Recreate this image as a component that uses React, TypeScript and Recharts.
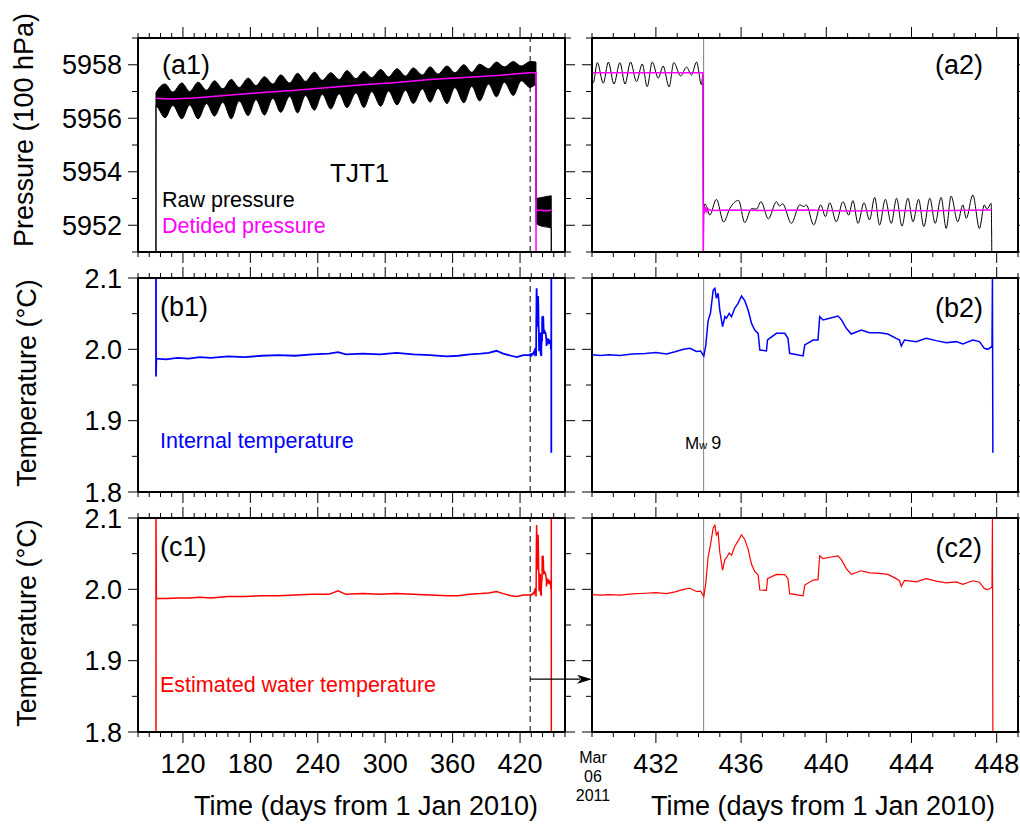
import React from "react";
import { ComposedChart, Line, Area, XAxis, YAxis, ReferenceLine } from "recharts";

const FONT = "'Liberation Sans', Arial, Helvetica, sans-serif";
const BLUE = "#0000ff";
const RED = "#ff0000";
const MAGENTA = "#ff00ff";
const GREY = "#808080";

// ---- pressure, 100 hPa ----
// envelope of the raw record on the long time axis (spring / neap tides alternate)
const bandDays = [95.98, 96, 104, 111, 119, 126, 133.5, 141, 148, 155.5, 163, 170, 178, 185, 192.5, 200, 207, 215, 222, 229, 237, 244, 251.5, 259, 266, 274, 281, 288, 296, 303, 310.5, 318, 325, 333, 340, 347, 355, 362, 370, 377, 384, 392, 399, 406, 414, 421, 429, 434.15, 434.3, 435, 441, 447.75, 447.8];
const bandLow = [5951, 5956.45, 5956.02, 5956.48, 5955.98, 5956.5, 5955.98, 5956.55, 5956.08, 5956.6, 5955.98, 5956.65, 5956.1, 5956.7, 5956.12, 5956.75, 5956.22, 5956.82, 5956.2, 5956.85, 5956.3, 5956.9, 5956.35, 5956.92, 5956.4, 5956.95, 5956.4, 5957.0, 5956.45, 5957.02, 5956.5, 5957.05, 5956.55, 5957.1, 5956.6, 5957.12, 5956.55, 5957.15, 5956.58, 5957.2, 5956.65, 5957.28, 5956.8, 5957.35, 5956.85, 5957.4, 5957.15, 5957.25, 5952.1, 5952.05, 5951.95, 5951.9, 5951];
const bandHigh = [5951, 5956.95, 5957.28, 5956.98, 5957.32, 5957.0, 5957.35, 5957.05, 5957.4, 5957.1, 5957.45, 5957.15, 5957.5, 5957.22, 5957.55, 5957.28, 5957.62, 5957.32, 5957.68, 5957.38, 5957.72, 5957.42, 5957.7, 5957.45, 5957.78, 5957.48, 5957.75, 5957.52, 5957.82, 5957.55, 5957.85, 5957.58, 5957.88, 5957.62, 5957.92, 5957.65, 5957.95, 5957.7, 5958.0, 5957.72, 5958.02, 5957.85, 5958.1, 5957.92, 5958.12, 5957.95, 5958.12, 5958.1, 5952.95, 5953.0, 5953.05, 5953.1, 5951];

// raw record around the mainshock: tidal highs and lows
const rawDays = [429.0, 429.06, 429.25, 429.53, 429.77, 430.03, 430.31, 430.55, 430.81, 431.09, 431.36, 431.59, 431.83, 432.11, 432.34, 432.62, 432.84, 433.16, 433.44, 433.67, 433.91, 434.14, 434.2, 434.24, 434.3, 434.38, 434.53, 434.84, 435.18, 435.47, 435.88, 436.17, 436.49, 436.72, 436.93, 437.28, 437.66, 437.8, 437.95, 438.36, 438.75, 438.95, 439.06, 439.41, 439.74, 439.96, 440.16, 440.47, 440.78, 441.05, 441.25, 441.49, 441.77, 442.03, 442.27, 442.5, 442.77, 443.05, 443.3, 443.55, 443.83, 444.07, 444.33, 444.58, 444.86, 445.11, 445.39, 445.63, 445.86, 446.17, 446.41, 446.57, 446.88, 447.19, 447.42, 447.55, 447.74, 447.77];
const rawValues = [5957.4, 5957.33, 5958.08, 5957.31, 5958.1, 5957.28, 5958.08, 5957.28, 5958.1, 5957.37, 5958.03, 5957.18, 5958.1, 5957.5, 5957.95, 5957.17, 5958.08, 5957.58, 5957.91, 5957.62, 5958.1, 5957.25, 5957.6, 5952.55, 5952.8, 5952.7, 5952.38, 5952.97, 5952.12, 5952.63, 5952.93, 5952.1, 5952.62, 5952.6, 5952.88, 5952.24, 5952.88, 5952.72, 5952.8, 5952.07, 5952.76, 5952.7, 5952.76, 5952.01, 5952.76, 5952.32, 5952.84, 5952.13, 5952.88, 5952.38, 5952.92, 5952.07, 5952.84, 5952.2, 5953.04, 5952.01, 5952.97, 5952.07, 5953.01, 5951.97, 5953.01, 5952.13, 5952.97, 5951.95, 5953.01, 5952.07, 5953.04, 5951.88, 5953.09, 5952.13, 5952.76, 5952.26, 5953.13, 5951.88, 5952.76, 5952.6, 5952.82, 5951.0];

const detidedDaysLong = [96, 110, 130, 160, 190, 220, 250, 280, 310, 340, 370, 400, 420];
const detidedLong = [5956.75, 5956.72, 5956.76, 5956.86, 5956.96, 5957.05, 5957.15, 5957.25, 5957.34, 5957.45, 5957.52, 5957.6, 5957.67];
const detidedDaysShort = [429.0, 434.2, 434.22, 434.25, 434.29, 434.33, 434.4, 434.48, 434.6, 435.5, 437.0, 439.0, 441.0, 443.0, 445.0, 447.76];
const detidedShort = [5957.7, 5957.7, 5951.0, 5952.75, 5952.45, 5952.68, 5952.5, 5952.6, 5952.55, 5952.57, 5952.55, 5952.57, 5952.53, 5952.55, 5952.54, 5952.57];

// ---- temperature, deg C ----
const tempDaysLong = [96.0, 96.02, 96.3, 105, 115, 125, 135, 145, 160, 175, 190, 205, 220, 235, 250, 258, 265, 280, 295, 310, 325, 340, 355, 365, 375, 385, 392, 399, 405, 412, 417, 423, 428.9];
const internalLong = [2.1, 1.962, 1.987, 1.986, 1.988, 1.987, 1.989, 1.988, 1.99, 1.989, 1.991, 1.992, 1.991, 1.993, 1.994, 1.996, 1.993, 1.994, 1.993, 1.995, 1.993, 1.992, 1.99, 1.991, 1.993, 1.994, 1.995, 1.998, 1.994, 1.991, 1.989, 1.992, 1.992];
const waterLong = [1.8, 2.1, 1.987, 1.987, 1.988, 1.988, 1.989, 1.988, 1.99, 1.99, 1.991, 1.991, 1.992, 1.993, 1.993, 1.998, 1.993, 1.994, 1.993, 1.994, 1.993, 1.992, 1.991, 1.991, 1.993, 1.994, 1.995, 1.997, 1.994, 1.991, 1.99, 1.992, 1.992];

const tempDaysShort = [429.0, 429.4, 429.8, 430.3, 430.9, 431.5, 432.0, 432.5, 432.9, 433.3, 433.6, 433.9, 434.1, 434.25, 434.34, 434.45, 434.56, 434.69, 434.77, 434.84, 434.92, 435.0, 435.13, 435.24, 435.31, 435.44, 435.55, 435.7, 435.86, 436.02, 436.17, 436.33, 436.49, 436.64, 436.8, 436.88, 437.19, 437.24, 437.66, 438.05, 438.2, 438.28, 438.91, 438.99, 439.38, 439.61, 439.69, 439.85, 440.16, 440.55, 440.7, 440.94, 441.17, 441.64, 442.03, 442.5, 442.89, 443.28, 443.44, 443.52, 443.67, 444.22, 444.69, 445.16, 445.63, 446.1, 446.41, 446.88, 447.19, 447.42, 447.58, 447.78, 447.8, 447.82];
const internalShort = [1.9925, 1.9915, 1.9925, 1.9915, 1.9935, 1.994, 1.9955, 1.9935, 1.9965, 2.0, 2.0015, 1.997, 1.9975, 1.9905, 2.005, 2.04, 2.0505, 2.083, 2.0855, 2.0715, 2.0785, 2.0551, 2.0318, 2.0458, 2.0435, 2.0505, 2.0458, 2.0575, 2.0645, 2.0748, 2.0682, 2.0551, 2.0364, 2.0271, 2.0224, 1.9991, 1.9977, 2.0131, 2.0224, 2.0224, 2.0154, 1.9944, 1.9907, 2.0061, 2.0131, 2.0131, 2.0458, 2.0411, 2.0435, 2.0467, 2.042, 2.0294, 2.0215, 2.0271, 2.0234, 2.0234, 2.0215, 2.0154, 2.0131, 2.0047, 2.0131, 2.0108, 2.0154, 2.0122, 2.0094, 2.0108, 2.0075, 2.0131, 2.0108, 2.0014, 2.0, 2.004, 2.1, 1.855];
const waterShort = [1.9925, 1.992, 1.9925, 1.9918, 1.9935, 1.9945, 1.9955, 1.994, 1.9965, 2.0, 2.0015, 1.997, 1.9975, 1.99, 2.008, 2.045, 2.062, 2.086, 2.09, 2.076, 2.08, 2.052, 2.027, 2.042, 2.044, 2.051, 2.048, 2.06, 2.068, 2.0765, 2.07, 2.056, 2.035, 2.025, 2.02, 1.999, 1.9985, 2.015, 2.021, 2.0205, 2.015, 1.994, 1.991, 2.006, 2.013, 2.0135, 2.047, 2.043, 2.045, 2.047, 2.042, 2.029, 2.021, 2.026, 2.023, 2.0225, 2.021, 2.015, 2.012, 2.004, 2.0125, 2.0105, 2.015, 2.0115, 2.009, 2.0105, 2.007, 2.012, 2.01, 2.001, 1.9995, 2.003, 2.1, 1.8];

// ---- axes ----
const LEFT_DOMAIN: [number, number] = [80, 460];
const RIGHT_DOMAIN: [number, number] = [429, 449];
const PRESSURE_DOMAIN: [number, number] = [5951, 5959];
const TEMP_DOMAIN: [number, number] = [1.8, 2.1];
const leftMajorTicks = [120, 180, 240, 300, 360, 420];
const rightMajorTicks = [432, 436, 440, 444, 448];
const pressureTicks = [5951, 5952, 5953, 5954, 5955, 5956, 5957, 5958, 5959];
const pressureMajorTicks = [5952, 5954, 5956, 5958];
const tempTicks = [1.8, 1.85, 1.9, 1.95, 2.0, 2.05, 2.1];
const tempMajorTicks = [1.8, 1.9, 2.0, 2.1];
const MARCH_6_2011 = 429;
const MAINSHOCK = 434.24;
const ARROW_LEVEL = 1.874;

const stepList = (a: number, b: number, s: number) => {
  const out: number[] = [];
  for (let v = a; v <= b; v += s) out.push(v);
  return out;
};
const leftMinorTicks = stepList(80, 460, 10);
const rightMinorTicks = stepList(429, 449, 1);

const zip = (days: number[], vals: number[]) => days.map((d, i) => ({ d, v: vals[i] }));
const bandData = bandDays.map((d, i) => ({ d, range: [bandLow[i], bandHigh[i]] }));
const rawShort = zip(rawDays, rawValues);
const detidedRight = zip(detidedDaysShort, detidedShort);
const detidedLeft = zip(detidedDaysLong, detidedLong).concat(detidedRight);
const internalRight = zip(tempDaysShort, internalShort);
const internalLeft = zip(tempDaysLong, internalLong).concat(internalRight);
const waterRight = zip(tempDaysShort, waterShort);
const waterLeft = zip(tempDaysLong, waterLong).concat(waterRight);

// frame boxes of the six panels
const FRAME_X = [138, 592];
const FRAME_W = [427, 426];
const FRAME_Y = [38, 278, 518];
const FRAME_H = 214;

const xLeft = (d: number) => FRAME_X[0] + ((d - LEFT_DOMAIN[0]) / (LEFT_DOMAIN[1] - LEFT_DOMAIN[0])) * FRAME_W[0];
const yTemp = (row: number, v: number) => FRAME_Y[row] + ((TEMP_DOMAIN[1] - v) / (TEMP_DOMAIN[1] - TEMP_DOMAIN[0])) * FRAME_H;

const hasValue = (list: number[], v: number) => list.some((m) => Math.abs(m - v) < 1e-6);
const AXIS_LINE = { stroke: "#000", strokeWidth: 2 };

type Side = "bottom" | "top" | "left" | "right";

function drawTick(p: any, side: Side, majors: number[], fmt: ((v: number) => string) | null) {
  const v = p.payload.value;
  const major = hasValue(majors, v);
  const vertical = side === "left" || side === "right";
  const len = vertical ? (major ? 10 : 6) : major ? 11 : 5;
  const { x, y } = p;
  let x2 = x;
  let y2 = y;
  if (side === "bottom") y2 = y + len;
  if (side === "top") y2 = y - len;
  if (side === "left") x2 = x - len;
  if (side === "right") x2 = x + len;
  return (
    <g>
      <line x1={x} y1={y} x2={x2} y2={y2} stroke="#000" strokeWidth={1} />
      {major && fmt && side === "bottom" && (
        <text x={x} y={y + 41} textAnchor="middle" fontSize={27} fontFamily={FONT} fill="#000">
          {fmt(v)}
        </text>
      )}
      {major && fmt && side === "left" && (
        <text x={x - 16} y={y} dy="0.36em" textAnchor="end" fontSize={27} fontFamily={FONT} fill="#000">
          {fmt(v)}
        </text>
      )}
    </g>
  );
}

interface PanelProps {
  col: number;
  row: number;
  yDomain: [number, number];
  yTicks: number[];
  yMajors: number[];
  yFmt: (v: number) => string;
  children: React.ReactNode;
}

function Panel({ col, row, yDomain, yTicks, yMajors, yFmt, children }: PanelProps) {
  const xDomain = col === 0 ? LEFT_DOMAIN : RIGHT_DOMAIN;
  const xTicks = col === 0 ? leftMinorTicks : rightMinorTicks;
  const xMajors = col === 0 ? leftMajorTicks : rightMajorTicks;
  const ml = col === 0 ? 130 : 14;
  const mr = col === 0 ? 14 : 2;
  const mt = 24;
  const mb = row === 2 ? 52 : 24;
  const width = FRAME_W[col] + ml + mr;
  const height = FRAME_H + mt + mb;
  const xFmt = row === 2 ? (v: number) => String(v) : null;
  const yLabel = col === 0 ? yFmt : null;
  // every axis takes a 1px band, so the margins are one pixel smaller
  return (
    <div style={{ position: "absolute", left: FRAME_X[col] - ml, top: FRAME_Y[row] - mt, width, height }}>
      <ComposedChart width={width} height={height} margin={{ top: mt - 1, right: mr - 1, bottom: mb - 1, left: ml - 1 }}>
        <XAxis xAxisId="b" orientation="bottom" type="number" dataKey="d" domain={xDomain} allowDataOverflow ticks={xTicks} interval={0} height={1} tickSize={0} tickMargin={0} tickLine={false} axisLine={AXIS_LINE} tick={(p: any) => drawTick(p, "bottom", xMajors, xFmt)} />
        <XAxis xAxisId="t" orientation="top" type="number" dataKey="d" domain={xDomain} allowDataOverflow ticks={xTicks} interval={0} height={1} tickSize={0} tickMargin={0} tickLine={false} axisLine={AXIS_LINE} tick={(p: any) => drawTick(p, "top", xMajors, null)} />
        <YAxis yAxisId="l" orientation="left" type="number" domain={yDomain} allowDataOverflow ticks={yTicks} interval={0} width={1} tickSize={0} tickMargin={0} tickLine={false} axisLine={AXIS_LINE} tick={(p: any) => drawTick(p, "left", yMajors, yLabel)} />
        <YAxis yAxisId="r" orientation="right" type="number" domain={yDomain} allowDataOverflow ticks={yTicks} interval={0} width={1} tickSize={0} tickMargin={0} tickLine={false} axisLine={AXIS_LINE} tick={(p: any) => drawTick(p, "right", yMajors, null)} />
        {children}
      </ComposedChart>
    </div>
  );
}

const seriesProps = { xAxisId: "b", yAxisId: "l", dot: false, activeDot: false, isAnimationActive: false } as const;

const pressureFmt = (v: number) => String(v);
const tempFmt = (v: number) => v.toFixed(1);

function Texts() {
  const arrowY = yTemp(2, ARROW_LEVEL);
  const arrowX0 = xLeft(MARCH_6_2011);
  const arrowX1 = FRAME_X[1];
  const t = { fontFamily: FONT, fill: "#000" };
  return (
    <svg width={1020} height={827} style={{ position: "absolute", left: 0, top: 0, pointerEvents: "none" }}>
      <text x={33} y={130} fontSize={27} textAnchor="middle" transform="rotate(-90 33 130)" {...t}>Pressure (100 hPa)</text>
      <text x={36} y={383} fontSize={27} textAnchor="middle" transform="rotate(-90 36 383)" {...t}>Temperature (°C)</text>
      <text x={36} y={623} fontSize={27} textAnchor="middle" transform="rotate(-90 36 623)" {...t}>Temperature (°C)</text>

      <text x={162} y={74} fontSize={27} {...t}>(a1)</text>
      <text x={160} y={316} fontSize={27} {...t}>(b1)</text>
      <text x={160} y={556} fontSize={27} {...t}>(c1)</text>
      <text x={983} y={74} fontSize={27} textAnchor="end" {...t}>(a2)</text>
      <text x={983} y={317} fontSize={27} textAnchor="end" {...t}>(b2)</text>
      <text x={982} y={557} fontSize={27} textAnchor="end" {...t}>(c2)</text>

      <text x={330} y={182} fontSize={26} {...t}>TJT1</text>
      <text x={162} y={207} fontSize={21.5} {...t}>Raw pressure</text>
      <text x={162} y={233} fontSize={21.5} fontFamily={FONT} fill={MAGENTA}>Detided pressure</text>
      <text x={160} y={448} fontSize={21.5} fontFamily={FONT} fill={BLUE}>Internal temperature</text>
      <text x={160} y={692} fontSize={21.5} fontFamily={FONT} fill={RED}>Estimated water temperature</text>

      <text x={685} y={449} fontSize={17} {...t}>
        M<tspan fontSize={11}>w</tspan>
        <tspan dx={4} fontSize={18}>9</tspan>
      </text>

      <text x={593} y={763} fontSize={16} textAnchor="middle" {...t}>Mar</text>
      <text x={593} y={782} fontSize={16} textAnchor="middle" {...t}>06</text>
      <text x={593} y={801} fontSize={16} textAnchor="middle" {...t}>2011</text>

      <text x={366} y={815} fontSize={27} textAnchor="middle" {...t}>Time (days from 1 Jan 2010)</text>
      <text x={823} y={815} fontSize={27} textAnchor="middle" {...t}>Time (days from 1 Jan 2010)</text>

      <line x1={arrowX0} y1={arrowY} x2={arrowX1 - 12} y2={arrowY} stroke="#000" strokeWidth={1.2} />
      <polygon points={`${arrowX1},${arrowY} ${arrowX1 - 15},${arrowY - 4.5} ${arrowX1 - 11},${arrowY} ${arrowX1 - 15},${arrowY + 4.5}`} fill="#000" />
    </svg>
  );
}

export default function App() {
  return (
    <div style={{ position: "absolute", left: 0, top: 0, width: 1020, height: 827, background: "#fff", overflow: "hidden" }}>
      {/* (a1) pressure, long record */}
      <Panel col={0} row={0} yDomain={PRESSURE_DOMAIN} yTicks={pressureTicks} yMajors={pressureMajorTicks} yFmt={pressureFmt}>
        <ReferenceLine x={MARCH_6_2011} xAxisId="b" yAxisId="l" stroke="#000" strokeDasharray="6 4" />
        <Area {...seriesProps} data={bandData} dataKey="range" type="monotone" stroke="#000" strokeWidth={1} fill="#000" fillOpacity={1} />
        <Line {...seriesProps} data={detidedLeft} dataKey="v" type="linear" stroke={MAGENTA} strokeWidth={1.5} />
      </Panel>
      {/* (a2) pressure, around the mainshock */}
      <Panel col={1} row={0} yDomain={PRESSURE_DOMAIN} yTicks={pressureTicks} yMajors={pressureMajorTicks} yFmt={pressureFmt}>
        <ReferenceLine x={MAINSHOCK} xAxisId="b" yAxisId="l" stroke={GREY} strokeWidth={1} />
        <Line {...seriesProps} data={rawShort} dataKey="v" type="monotone" stroke="#000" strokeWidth={1} />
        <Line {...seriesProps} data={detidedRight} dataKey="v" type="linear" stroke={MAGENTA} strokeWidth={1.5} />
      </Panel>
      {/* (b1) internal temperature */}
      <Panel col={0} row={1} yDomain={TEMP_DOMAIN} yTicks={tempTicks} yMajors={tempMajorTicks} yFmt={tempFmt}>
        <ReferenceLine x={MARCH_6_2011} xAxisId="b" yAxisId="l" stroke="#000" strokeDasharray="6 4" />
        <Line {...seriesProps} data={internalLeft} dataKey="v" type="linear" stroke={BLUE} strokeWidth={1.8} />
      </Panel>
      {/* (b2) */}
      <Panel col={1} row={1} yDomain={TEMP_DOMAIN} yTicks={tempTicks} yMajors={tempMajorTicks} yFmt={tempFmt}>
        <ReferenceLine x={MAINSHOCK} xAxisId="b" yAxisId="l" stroke={GREY} strokeWidth={1} />
        <Line {...seriesProps} data={internalRight} dataKey="v" type="linear" stroke={BLUE} strokeWidth={1.5} />
      </Panel>
      {/* (c1) estimated water temperature */}
      <Panel col={0} row={2} yDomain={TEMP_DOMAIN} yTicks={tempTicks} yMajors={tempMajorTicks} yFmt={tempFmt}>
        <ReferenceLine x={MARCH_6_2011} xAxisId="b" yAxisId="l" stroke="#000" strokeDasharray="6 4" />
        <Line {...seriesProps} data={waterLeft} dataKey="v" type="linear" stroke={RED} strokeWidth={1.5} />
      </Panel>
      {/* (c2) */}
      <Panel col={1} row={2} yDomain={TEMP_DOMAIN} yTicks={tempTicks} yMajors={tempMajorTicks} yFmt={tempFmt}>
        <ReferenceLine x={MAINSHOCK} xAxisId="b" yAxisId="l" stroke={GREY} strokeWidth={1} />
        <Line {...seriesProps} data={waterRight} dataKey="v" type="linear" stroke={RED} strokeWidth={1.2} />
      </Panel>
      <Texts />
    </div>
  );
}
